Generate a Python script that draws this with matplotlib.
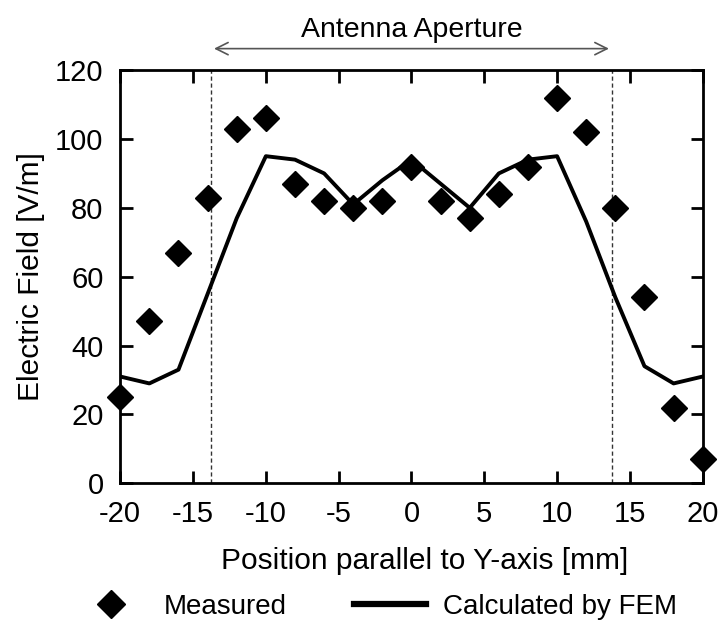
import matplotlib.pyplot as plt
from matplotlib.lines import Line2D

plt.rcParams['font.family'] = ['Liberation Sans', 'DejaVu Sans']
plt.rcParams['axes.unicode_minus'] = False

# Measured field values
pos_measured = [-20, -18, -16, -14, -12, -10, -8, -6, -4, -2, 0,
                2, 4, 6, 8, 10, 12, 14, 16, 18, 20]
field_measured = [25, 47, 67, 83, 103, 106, 87, 82, 80, 82, 92,
                  82, 77, 84, 92, 112, 102, 80, 54, 22, 7]

# FEM calculation
pos_fem = [-20, -18, -16, -14, -12, -10, -8, -6, -4, -2, 0,
           2, 4, 6, 8, 10, 12, 14, 16, 18, 20]
field_fem = [31, 29, 33, 55, 77, 95, 94, 90, 81, 88, 94,
             87, 80, 90, 94, 95, 76, 54, 34, 29, 31]

aperture = [-13.75, 13.75]

fig = plt.figure(figsize=(7.2, 6.26), dpi=100)
ax = fig.add_axes([0.167, 0.228, 0.809, 0.66])

ax.plot(pos_fem, field_fem, color='black', lw=2.8, zorder=3)
ax.plot(pos_measured, field_measured, 'D', color='black', ms=13.5, zorder=4,
        clip_on=False)

# Aperture edges
for a in aperture:
    ax.axvline(a, color='#333333', lw=1, ls=(0, (3, 2)), zorder=2)

# Aperture arrow above the axes
ax.annotate('', xy=(aperture[0], 1.052), xytext=(aperture[1], 1.052),
            xycoords=('data', 'axes fraction'),
            textcoords=('data', 'axes fraction'),
            arrowprops=dict(arrowstyle='<->', color='#555555', lw=1.2,
                            mutation_scale=22),
            annotation_clip=False)
ax.text(0, 1.08, 'Antenna Aperture', transform=ax.get_xaxis_transform(),
        ha='center', va='baseline', fontsize=20.5)

ax.set_xlim(-20, 20)
ax.set_ylim(0, 120)
ax.set_xticks(range(-20, 21, 5))
ax.set_yticks(range(0, 121, 20))
ax.tick_params(direction='in', length=9, width=2, top=True, right=True,
               labelsize=21, pad=12)
for s in ax.spines.values():
    s.set_linewidth(2)

ax.set_xlabel('Position parallel to Y-axis [mm]', fontsize=21.5)
ax.xaxis.set_label_coords(0.523, -0.155)
ax.set_ylabel('Electric Field [V/m]', fontsize=21.5, labelpad=7)

handles = [Line2D([], [], marker='D', color='black', ls='none', ms=14.5),
           Line2D([], [], color='black', lw=4.5)]
fig.legend(handles, ['Measured', 'Calculated by FEM'], loc='center left',
           bbox_to_anchor=(0.085, 0.030), ncol=2, frameon=False, fontsize=20,
           borderpad=0, handlelength=2.6, handletextpad=0.6, columnspacing=2.4)

fig.savefig('out.png', dpi=100)
